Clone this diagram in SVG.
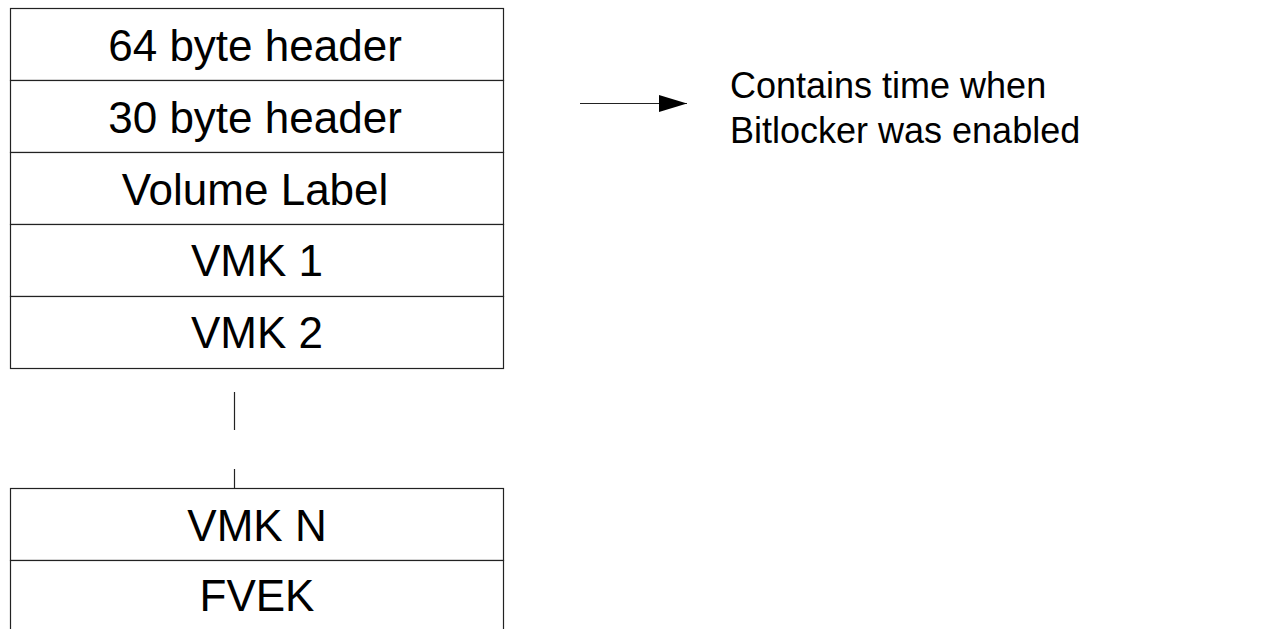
<svg xmlns="http://www.w3.org/2000/svg" width="1268" height="629" viewBox="0 0 1268 629">
<defs>
<style>
.cell{fill:#fff;stroke:#222;stroke-width:1.2}
.t{font-family:"Liberation Sans",Arial,sans-serif;fill:#000}
.bt{font-size:44px;text-anchor:middle}
.nt{font-size:36px}
.conn{stroke:#222;stroke-width:1.2;fill:none}
</style>
<marker id="ah" markerWidth="28" markerHeight="17" refX="28" refY="8.5" orient="auto" markerUnits="userSpaceOnUse">
<path d="M0,0 L28,8.5 L0,17 Z" fill="#000"/>
</marker>
</defs>
<g id="row-64">
<rect class="cell" x="10.5" y="8.5" width="493" height="72"/>
<text class="t bt" x="255" y="61">64 byte header</text>
</g>
<g id="row-30">
<rect class="cell" x="10.5" y="80.5" width="493" height="72"/>
<text class="t bt" x="255" y="133">30 byte header</text>
</g>
<g id="row-label">
<rect class="cell" x="10.5" y="152.5" width="493" height="72"/>
<text class="t bt" x="255" y="205">Volume Label</text>
</g>
<g id="row-vmk1">
<rect class="cell" x="10.5" y="224.5" width="493" height="72"/>
<text class="t bt" x="257" y="276">VMK 1</text>
</g>
<g id="row-vmk2">
<rect class="cell" x="10.5" y="296.5" width="493" height="72"/>
<text class="t bt" x="257" y="348">VMK 2</text>
</g>
<g id="row-vmkn">
<rect class="cell" x="10.5" y="488.5" width="493" height="72"/>
<text class="t bt" x="257" y="541">VMK N</text>
</g>
<g id="row-fvek">
<rect class="cell" x="10.5" y="560.5" width="493" height="90"/>
<text class="t bt" x="257" y="611">FVEK</text>
</g>
<g id="note">
<text class="t nt" x="730" y="98">Contains time when</text>
<text class="t nt" x="730" y="143">Bitlocker was enabled</text>
</g>
<g id="connectors">
<line class="conn" x1="234.5" y1="392" x2="234.5" y2="430"/>
<line class="conn" x1="234.5" y1="469" x2="234.5" y2="488"/>
<line class="conn" x1="580" y1="103.5" x2="687" y2="103.5" marker-end="url(#ah)"/>
</g>
</svg>
